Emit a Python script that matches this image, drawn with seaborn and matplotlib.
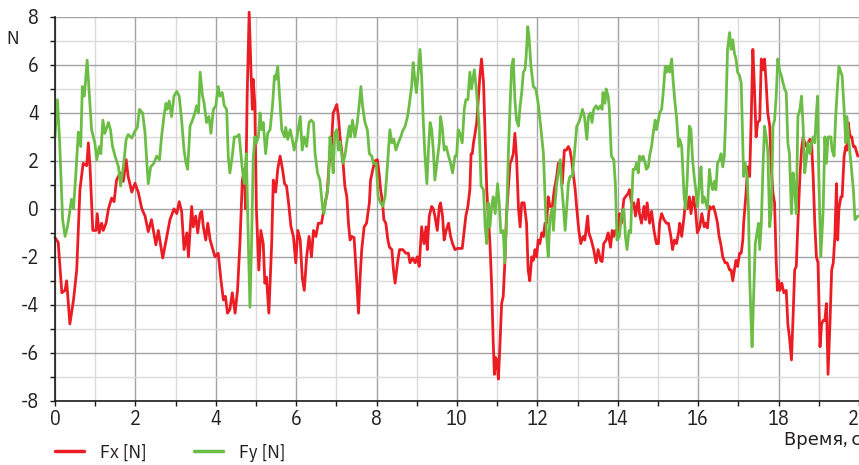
import numpy as np
import pandas as pd
import matplotlib
matplotlib.use("Agg")
import matplotlib.pyplot as plt
from matplotlib.ticker import MultipleLocator
from matplotlib.lines import Line2D
import seaborn as sns

# ---------------- data ----------------
fx_t = [0.00, 0.08, 0.17, 0.25, 0.29, 0.37, 0.46, 0.54, 0.62, 0.70, 0.79, 0.83, 0.87, 0.94, 1.02, 1.05, 1.10, 1.16, 1.20, 1.27,
        1.33, 1.41, 1.47, 1.53, 1.62, 1.70, 1.77, 1.82, 1.91, 1.99, 2.07, 2.16, 2.24, 2.32, 2.40, 2.51, 2.57, 2.68, 2.78, 2.86,
        2.96, 3.03, 3.09, 3.15, 3.21, 3.28, 3.32, 3.36, 3.40, 3.44, 3.50, 3.55, 3.61, 3.65, 3.69, 3.75, 3.80, 3.86, 3.91, 3.98,
        4.06, 4.13, 4.19, 4.24, 4.29, 4.35, 4.41, 4.48, 4.54, 4.60, 4.66, 4.71, 4.74, 4.78, 4.83, 4.88, 4.91, 4.93, 4.97, 5.01,
        5.07, 5.12, 5.18, 5.22, 5.26, 5.32, 5.39, 5.43, 5.49, 5.54, 5.60, 5.66, 5.71, 5.76, 5.82, 5.87, 5.93, 5.99, 6.04, 6.10,
        6.15, 6.20, 6.26, 6.32, 6.38, 6.43, 6.49, 6.55, 6.63, 6.66, 6.72, 6.77, 6.82, 6.88, 6.92, 6.96, 7.01, 7.05, 7.09, 7.16,
        7.21, 7.26, 7.30, 7.34, 7.38, 7.44, 7.49, 7.55, 7.59, 7.63, 7.69, 7.75, 7.82, 7.85, 7.92, 7.96, 8.02, 8.07, 8.10, 8.15,
        8.18, 8.23, 8.28, 8.32, 8.38, 8.42, 8.46, 8.52, 8.57, 8.65, 8.73, 8.79, 8.83, 8.90, 8.96, 9.01, 9.06, 9.12, 9.18, 9.23,
        9.26, 9.31, 9.37, 9.41, 9.45, 9.51, 9.56, 9.59, 9.64, 9.68, 9.73, 9.79, 9.84, 9.89, 9.95, 10.01, 10.07, 10.13, 10.22, 10.27,
        10.32, 10.35, 10.38, 10.41, 10.45, 10.49, 10.53, 10.57, 10.61, 10.66, 10.70, 10.74, 10.78, 10.82, 10.86, 10.90, 10.93, 10.96, 10.99, 11.03,
        11.07, 11.11, 11.15, 11.19, 11.23, 11.28, 11.32, 11.36, 11.40, 11.44, 11.48, 11.53, 11.57, 11.61, 11.67, 11.73, 11.77, 11.81, 11.86, 11.90,
        11.94, 11.98, 12.02, 12.06, 12.11, 12.15, 12.19, 12.23, 12.27, 12.31, 12.37, 12.42, 12.48, 12.52, 12.57, 12.62, 12.67, 12.72, 12.77, 12.81,
        12.85, 12.89, 12.94, 12.98, 13.03, 13.08, 13.14, 13.18, 13.25, 13.28, 13.34, 13.40, 13.46, 13.51, 13.57, 13.61, 13.65, 13.71, 13.76, 13.82,
        13.86, 13.90, 13.94, 14.01, 14.04, 14.09, 14.15, 14.19, 14.26, 14.29, 14.34, 14.40, 14.44, 14.51, 14.54, 14.59, 14.65, 14.69, 14.73, 14.79,
        14.84, 14.90, 14.96, 15.01, 15.04, 15.09, 15.15, 15.21, 15.26, 15.32, 15.36, 15.41, 15.46, 15.51, 15.54, 15.59, 15.65, 15.69, 15.73, 15.78,
        15.82, 15.88, 15.93, 15.98, 16.04, 16.09, 16.15, 16.19, 16.23, 16.28, 16.32, 16.38, 16.43, 16.48, 16.52, 16.56, 16.61, 16.67, 16.72, 16.78,
        16.82, 16.86, 16.90, 16.94, 16.98, 17.03, 17.07, 17.11, 17.13, 17.17, 17.19, 17.23, 17.28, 17.32, 17.36, 17.40, 17.44, 17.48, 17.53, 17.57,
        17.61, 17.65, 17.69, 17.73, 17.78, 17.82, 17.86, 17.90, 17.94, 17.97, 18.00, 18.03, 18.08, 18.13, 18.19, 18.23, 18.27, 18.32, 18.36, 18.40,
        18.44, 18.48, 18.53, 18.57, 18.61, 18.65, 18.69, 18.73, 18.78, 18.82, 18.86, 18.90, 18.94, 18.98, 19.03, 19.07, 19.11, 19.15, 19.19, 19.23,
        19.28, 19.32, 19.36, 19.40, 19.44, 19.47, 19.50, 19.55, 19.58, 19.63, 19.67, 19.70, 19.73, 19.78, 19.82, 19.86, 19.90, 19.97]
fx_v = [-1.2, -1.4, -3.5, -3.4, -3.0, -4.8, -3.8, -2.55, 0.8, 1.9, 1.8, 2.75, 1.8, -0.9, -0.9, -0.2, -1.0, -0.6, -0.9, -0.6,
        0.0, 0.45, 0.3, 1.2, 1.5, 1.15, 2.05, 1.35, 0.7, 1.07, 0.7, 0.0, -0.3, -0.95, -0.45, -1.5, -0.9, -2.05, -1.15, -0.45,
        0.0, -0.2, 0.3, -0.1, -1.7, -1.0, -2.0, -0.9, 0.1, -0.75, -0.3, -1.0, -0.2, -0.1, -0.75, -1.3, -0.6, -1.3, -1.6, -2.0,
        -1.85, -3.0, -3.8, -3.65, -4.35, -4.2, -3.5, -4.35, -3.4, -1.45, 1.2, 1.65, 0.0, 4.7, 8.2, 5.5, 4.15, 5.4, 4.4, 0.0,
        -2.55, -0.9, -1.45, -3.1, -2.85, -4.35, -1.45, 1.2, 0.7, 1.65, 2.2, 1.65, 1.05, 0.95, 0.1, -0.75, -1.15, -2.25, -0.9, -1.3,
        -2.85, -3.4, -2.0, -1.15, -2.0, -0.9, -1.15, -0.6, -0.6, -0.3, 0.25, 0.65, 1.9, 2.75, 4.0, 4.15, 4.35, 3.85, 3.0, 2.05,
        0.95, 0.5, -0.6, -1.3, -1.15, -1.2, -2.55, -4.35, -2.85, -1.7, -0.75, -0.6, 0.25, 1.2, 1.75, 2.0, 2.05, 1.35, 0.8, 0.25,
        -0.45, -0.6, -1.3, -1.6, -1.7, -2.55, -3.1, -2.25, -1.7, -1.7, -1.85, -1.85, -2.25, -2.05, -2.25, -2.0, -2.4, -0.75, -1.45, -0.75,
        -1.7, -0.3, 0.1, 0.0, -0.3, -0.9, 0.1, 0.25, -0.3, -1.3, -0.9, -0.6, -1.15, -1.45, -1.7, -1.65, -1.65, -1.65, -0.3, 0.1,
        0.8, 2.3, 2.3, 2.75, 3.15, 3.6, 4.55, 5.55, 6.25, 5.25, 3.0, 0.8, -0.3, -1.45, -3.1, -5.5, -6.9, -6.2, -6.3, -7.1,
        -5.6, -3.95, -3.65, -2.25, -0.3, 0.95, 1.9, 2.05, 2.3, 3.15, 2.2, 0.0, -0.75, 0.25, 0.25, -0.6, -2.55, -3.0, -2.0, -2.15,
        -1.7, -2.0, -1.3, -1.45, -1.0, -1.15, -0.6, -0.6, 0.5, 0.1, 0.1, 0.8, 1.35, 1.9, 1.9, 1.05, 2.45, 2.45, 2.6, 2.45,
        2.05, 1.5, 0.8, 0.0, -0.9, -1.45, -1.15, -1.3, -0.3, -1.0, -1.3, -1.7, -2.25, -1.7, -2.15, -2.2, -1.45, -1.3, -1.0, -1.6,
        -0.9, -1.15, -0.9, -1.15, -0.2, -0.6, 0.4, 0.5, 0.65, 0.8, 0.25, 0.25, -0.3, 0.4, -0.2, -0.6, 0.1, -0.45, 0.25, -0.6,
        -0.1, -0.9, -1.45, -1.45, -0.6, -0.2, -0.45, -0.6, -0.6, -1.15, -1.7, -1.3, -1.45, -1.0, -0.6, -1.15, -0.3, 0.4, 0.0, 0.5,
        -0.2, 0.5, 0.0, -1.0, -0.75, -0.2, -0.75, -0.6, -0.8, 0.1, 0.0, 0.1, -0.2, -0.6, -1.15, -1.45, -2.0, -2.25, -2.25, -2.55,
        -2.55, -3.0, -2.55, -2.15, -2.4, -1.85, -1.85, -1.3, -0.6, 0.25, 0.65, 1.75, 1.35, 3.85, 6.65, 5.0, 3.0, 3.6, 3.7, 6.25,
        5.8, 6.25, 5.25, 4.0, 3.45, 1.65, 0.65, 0.25, -2.15, -3.4, -3.0, -3.4, -3.1, -3.5, -3.4, -4.8, -5.35, -6.3, -4.5, -2.55,
        -2.4, -0.6, 1.35, 2.45, 3.0, 2.75, 2.6, 2.75, 2.9, 2.75, 1.35, -0.6, -2.0, -2.25, -5.75, -4.8, -4.65, -4.65, -3.95, -6.9,
        -4.65, -2.55, -2.25, -1.15, 1.05, -1.3, 0.0, 0.5, 0.5, 2.2, 2.6, 2.45, 3.6, 3.0, 3.0, 2.6, 2.6, 2.2]

fy_t = [0.00, 0.06, 0.11, 0.19, 0.25, 0.31, 0.36, 0.41, 0.46, 0.52, 0.58, 0.64, 0.68, 0.73, 0.80, 0.85, 0.91, 0.99, 1.04, 1.10,
        1.14, 1.19, 1.24, 1.33, 1.38, 1.43, 1.52, 1.58, 1.63, 1.70, 1.77, 1.82, 1.91, 1.99, 2.05, 2.10, 2.18, 2.24, 2.28, 2.32,
        2.38, 2.46, 2.53, 2.60, 2.65, 2.71, 2.76, 2.79, 2.84, 2.90, 2.96, 3.03, 3.09, 3.15, 3.21, 3.26, 3.30, 3.36, 3.42, 3.48,
        3.52, 3.57, 3.61, 3.67, 3.71, 3.77, 3.83, 3.88, 3.94, 4.00, 4.06, 4.10, 4.16, 4.21, 4.27, 4.31, 4.35, 4.41, 4.46, 4.52,
        4.58, 4.63, 4.66, 4.71, 4.76, 4.81, 4.85, 4.89, 4.93, 4.97, 5.01, 5.06, 5.10, 5.14, 5.18, 5.24, 5.29, 5.35, 5.41, 5.46,
        5.49, 5.54, 5.60, 5.64, 5.71, 5.74, 5.79, 5.85, 5.89, 5.95, 6.01, 6.10, 6.15, 6.20, 6.26, 6.32, 6.37, 6.43, 6.47, 6.53,
        6.59, 6.66, 6.69, 6.74, 6.80, 6.84, 6.88, 6.92, 6.96, 7.01, 7.05, 7.09, 7.16, 7.21, 7.27, 7.32, 7.35, 7.40, 7.46, 7.52,
        7.57, 7.61, 7.65, 7.71, 7.77, 7.82, 7.88, 7.92, 7.99, 8.04, 8.10, 8.15, 8.21, 8.25, 8.29, 8.33, 8.38, 8.43, 8.48, 8.54,
        8.60, 8.65, 8.71, 8.77, 8.81, 8.87, 8.91, 8.95, 8.99, 9.04, 9.08, 9.12, 9.16, 9.20, 9.25, 9.29, 9.33, 9.37, 9.41, 9.45,
        9.51, 9.56, 9.59, 9.64, 9.68, 9.73, 9.79, 9.84, 9.89, 9.95, 9.99, 10.03, 10.07, 10.13, 10.18, 10.22, 10.27, 10.30, 10.32, 10.36,
        10.41, 10.43, 10.49, 10.55, 10.60, 10.66, 10.70, 10.74, 10.78, 10.82, 10.86, 10.90, 10.95, 11.01, 11.05, 11.09, 11.15, 11.19, 11.23, 11.28,
        11.32, 11.36, 11.40, 11.44, 11.48, 11.53, 11.57, 11.61, 11.65, 11.69, 11.72, 11.76, 11.79, 11.84, 11.90, 11.96, 12.02, 12.09, 12.15, 12.19,
        12.23, 12.27, 12.31, 12.36, 12.40, 12.44, 12.48, 12.52, 12.57, 12.60, 12.64, 12.69, 12.73, 12.77, 12.81, 12.87, 12.92, 12.98, 13.03, 13.08,
        13.12, 13.17, 13.23, 13.27, 13.32, 13.36, 13.40, 13.46, 13.51, 13.57, 13.61, 13.63, 13.68, 13.71, 13.76, 13.79, 13.84, 13.90, 13.94, 13.98,
        14.04, 14.09, 14.15, 14.19, 14.23, 14.28, 14.32, 14.34, 14.38, 14.43, 14.46, 14.51, 14.54, 14.59, 14.63, 14.68, 14.71, 14.76, 14.79, 14.84,
        14.88, 14.93, 14.96, 15.01, 15.04, 15.09, 15.13, 15.18, 15.21, 15.26, 15.29, 15.34, 15.38, 15.43, 15.46, 15.51, 15.54, 15.59, 15.65, 15.69,
        15.73, 15.78, 15.82, 15.86, 15.90, 15.94, 15.98, 16.03, 16.07, 16.11, 16.15, 16.19, 16.23, 16.28, 16.32, 16.36, 16.40, 16.44, 16.48, 16.53,
        16.57, 16.61, 16.65, 16.69, 16.73, 16.78, 16.82, 16.86, 16.90, 16.94, 16.98, 17.03, 17.07, 17.11, 17.13, 17.17, 17.22, 17.25, 17.28, 17.32,
        17.34, 17.38, 17.42, 17.47, 17.50, 17.53, 17.57, 17.61, 17.65, 17.69, 17.73, 17.78, 17.82, 17.86, 17.90, 17.94, 17.98, 18.02, 18.07, 18.11,
        18.15, 18.19, 18.23, 18.27, 18.32, 18.36, 18.40, 18.44, 18.48, 18.53, 18.57, 18.61, 18.65, 18.69, 18.73, 18.78, 18.82, 18.86, 18.90, 18.94,
        18.97, 19.00, 19.05, 19.11, 19.15, 19.19, 19.23, 19.30, 19.33, 19.38, 19.42, 19.47, 19.50, 19.55, 19.58, 19.63, 19.67, 19.70, 19.75, 19.80,
        19.86, 19.90, 19.97]
fy_v = [3.0, 4.55, 3.0, -0.45, -1.15, -0.75, -0.2, 0.4, 0.0, 1.5, 3.2, 2.6, 5.1, 4.7, 6.2, 4.85, 3.3, 2.75, 2.05, 2.6,
        2.3, 3.7, 3.15, 3.6, 3.3, 2.6, 2.05, 1.75, 0.95, 1.75, 2.9, 3.1, 2.95, 3.25, 3.4, 4.15, 4.0, 3.15, 2.05, 1.05,
        1.75, 1.9, 2.2, 2.05, 3.0, 3.85, 4.4, 4.15, 4.5, 3.85, 4.7, 4.9, 4.7, 3.7, 2.45, 1.9, 1.65, 3.45, 3.7, 4.0,
        4.3, 4.0, 5.7, 4.7, 4.4, 3.6, 3.85, 3.15, 4.15, 4.3, 5.1, 4.7, 4.85, 4.3, 4.15, 2.2, 1.5, 2.2, 3.0, 3.0,
        3.1, 2.2, 1.65, 1.05, 2.3, -1.45, -4.1, -1.45, 2.05, 3.0, 2.75, 3.0, 4.0, 3.3, 3.6, 2.3, 3.15, 3.3, 4.3, 5.55,
        5.4, 5.95, 4.4, 3.3, 3.0, 3.4, 2.9, 3.3, 3.0, 2.45, 2.9, 3.85, 2.45, 3.0, 2.6, 3.6, 3.7, 3.6, 2.3, 1.5,
        1.2, 0.0, -0.2, 0.4, 1.05, 3.0, 2.45, 1.5, 3.15, 3.3, 2.45, 2.8, 1.9, 2.2, 2.9, 3.45, 3.0, 3.7, 3.0, 3.6,
        4.4, 5.1, 4.3, 3.6, 3.3, 2.3, 2.2, 1.9, 1.9, 0.5, 0.25, 0.1, 0.5, 1.35, 2.3, 3.3, 2.75, 2.9, 2.45, 2.75,
        3.0, 3.25, 3.45, 3.85, 4.3, 5.1, 6.1, 5.4, 4.85, 5.8, 6.65, 5.55, 3.7, 2.3, 1.05, 2.45, 3.6, 3.3, 2.45, 1.2,
        2.05, 2.75, 3.85, 3.3, 2.45, 2.6, 2.2, 1.9, 1.5, 2.2, 2.2, 3.3, 3.15, 2.75, 4.15, 4.55, 4.55, 5.25, 5.7, 5.0,
        5.55, 5.8, 4.85, 3.45, 0.95, 0.8, -0.75, -1.45, 0.25, -0.75, 0.1, 0.5, -0.2, 1.05, 0.25, -1.0, -0.9, -2.25, -0.6, 2.45,
        4.3, 5.95, 6.25, 4.55, 3.7, 3.45, 4.3, 4.85, 5.7, 5.8, 6.35, 7.6, 7.2, 5.95, 5.1, 5.0, 4.4, 3.3, 2.3, 0.5,
        -1.15, -2.0, -0.45, 0.0, -0.9, 0.25, 1.05, 1.5, 2.05, 1.05, 0.25, -0.9, 0.1, 1.05, 1.35, 1.35, 2.3, 3.45, 3.6, 3.85,
        4.15, 3.85, 2.9, 3.85, 4.0, 3.6, 4.15, 4.3, 4.15, 4.3, 4.15, 4.85, 4.4, 5.0, 4.7, 4.15, 2.2, 2.05, 1.05, -1.3,
        -1.15, -0.3, 0.0, -1.15, -1.7, -0.9, -1.0, 0.0, 1.65, 1.65, 1.9, 1.5, 2.2, 2.05, 2.2, 1.9, 1.65, 1.75, 2.2, 2.6,
        3.15, 3.7, 3.3, 3.7, 4.0, 4.15, 4.85, 5.95, 5.7, 5.95, 5.7, 6.25, 5.25, 4.3, 3.85, 2.6, 2.9, 2.6, 0.5, 0.0,
        1.35, 3.45, 3.3, 2.05, 1.35, 0.8, 0.1, 1.05, 1.75, 0.25, 0.5, 0.25, 0.0, 1.65, 1.05, 0.8, 1.15, 0.8, 1.9, 2.05,
        2.3, 1.75, 2.2, 4.15, 6.65, 7.35, 6.65, 7.05, 6.5, 6.25, 5.7, 5.55, 5.25, 2.75, 1.35, 1.9, 1.35, 0.0, -2.85, -4.9,
        -5.75, -3.55, -1.45, -0.9, -0.6, -1.7, -0.6, 1.65, 3.45, 3.0, 2.45, -0.75, 0.0, 3.45, 3.7, 4.7, 6.25, 5.8, 5.55, 5.25,
        5.0, 4.85, 2.75, 2.3, -0.2, 1.5, 0.8, -0.2, 3.85, 4.15, 4.7, 3.45, 1.5, 2.05, 2.75, 2.3, 2.75, 3.0, 2.75, 4.0,
        4.7, 1.35, -2.0, 0.0, 3.0, 1.9, 3.0, 3.0, 2.45, 2.2, 3.85, 5.25, 5.95, 5.7, 5.55, 4.15, 2.75, 3.85, 2.75, 1.9,
        0.8, -0.45, -0.3]

series_names = ["Fx [N]", "Fy [N]"]
x_ticks = [0, 2, 4, 6, 8, 10, 12, 14, 16, 18, 20]
y_ticks = [-8, -6, -4, -2, 0, 2, 4, 6, 8]
x_label = "Время, с"
y_unit = "N"

# ---------------- build long-form table ----------------
df = pd.concat([
    pd.DataFrame({"t": fx_t, "F": fx_v, "series": series_names[0]}),
    pd.DataFrame({"t": fy_t, "F": fy_v, "series": series_names[1]}),
], ignore_index=True)

RED = "#ec1c24"
GREEN = "#6cbd45"
TXT = "#231f20"
FS = 14

sns.set_theme(style="white")
plt.rcParams["font.family"] = ["IBM Plex Sans Condensed", "DejaVu Sans"]
plt.rcParams["axes.unicode_minus"] = False

W, H = 859, 465
fig = plt.figure(figsize=(W / 100, H / 100), dpi=100)
ax = fig.add_axes([55 / W, 1 - 400.7 / H, (859 - 55) / W, (400.7 - 17) / H])

sns.lineplot(data=df, x="t", y="F", hue="series", palette={series_names[0]: RED, series_names[1]: GREEN},
             estimator=None, sort=False, linewidth=2.0, ax=ax, legend=False)
for ln in ax.lines:
    ln.set_clip_on(False)
    ln.set_solid_joinstyle("round")

ax.set_xlim(0, 20)
ax.set_ylim(-8, 8)
ax.set_xticks(x_ticks)
ax.set_yticks(y_ticks)
ax.xaxis.set_minor_locator(MultipleLocator(1))
ax.yaxis.set_minor_locator(MultipleLocator(1))
ax.grid(which="major", color="#a3a3a3", linewidth=1.0)
ax.grid(which="minor", color="#dadada", linewidth=1.0)
ax.set_axisbelow(True)
ax.set_xlabel("")
ax.set_ylabel("")

for s in ["top", "right"]:
    ax.spines[s].set_visible(False)
for s in ["left", "bottom"]:
    ax.spines[s].set_color("#1a1a1a")
    ax.spines[s].set_linewidth(1.2)

ax.tick_params(which="both", direction="out", length=3.5, width=1.0, color="#1a1a1a",
               left=True, bottom=True)
ax.tick_params(axis="y", which="major", labelsize=FS + 0.5, labelcolor=TXT, pad=8)
ax.tick_params(axis="x", which="major", labelsize=FS + 0.5, labelcolor=TXT, pad=3)

fig.text(13 / W, 1 - 39 / H, y_unit, ha="center", va="center", fontsize=FS, color=TXT)
fig.text(784 / W, 1 - 440 / H, x_label, ha="left", va="center", fontsize=13, color=TXT)

handles = [Line2D([], [], color=RED, linewidth=2.5), Line2D([], [], color=GREEN, linewidth=2.5)]
fig.legend(handles, series_names, loc="center left", bbox_to_anchor=(55 / W, 1 - 453 / H),
           ncol=2, frameon=False, fontsize=FS, handlelength=1.5, handletextpad=0.8,
           columnspacing=2.45, borderpad=0, borderaxespad=0, labelcolor=TXT)

fig.savefig("out.png", dpi=100)
